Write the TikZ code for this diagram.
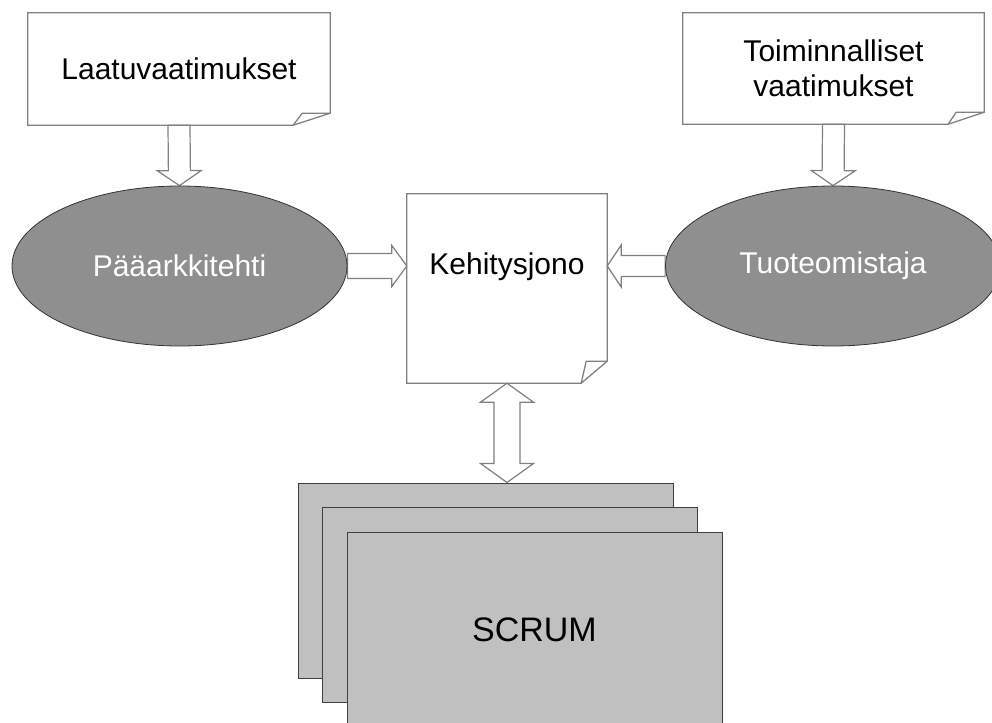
\documentclass[tikz,border=0pt]{standalone}
\usepackage{fontspec}
\setmainfont{Liberation Sans}
\usetikzlibrary{calc,shapes.geometric}
\pgfdeclarelayer{back}
\pgfsetlayers{back,main}

\definecolor{docline}{HTML}{808080}
\definecolor{rolefill}{HTML}{8F8F8F}
\definecolor{scrumfill}{HTML}{C0C0C0}

\tikzset{
  every node/.style={font=\fontsize{30}{35}\selectfont},
  docnode/.style={rectangle, inner sep=0pt, align=center},
  docedge/.style={draw=docline, line width=1.3pt, line join=miter},
  role/.style={ellipse, draw=black!80, line width=0.8pt, fill=rolefill,
    text=white, inner sep=0pt, minimum width=335pt, minimum height=160pt},
  scrumcard/.style={rectangle, draw=black!75, line width=1pt, fill=scrumfill,
    minimum width=375pt, minimum height=195pt, inner sep=0pt,
    font=\fontsize{34}{40}\selectfont},
  hollowarrow/.style={draw=docline, fill=white, line width=1.2pt, line join=miter},
}

% Outline of a document with a curled lower right corner:
% node, fold width, fold height, flap inset
\newcommand{\foldeddoc}[4]{%
  \coordinate (fd-b) at ($(#1.south east)+(-#2,0)$);
  \coordinate (fd-r) at ($(#1.south east)+(0,-#3)$);
  \coordinate (fd-f) at ($(#1.south east)+(-#4,-#3)$);
  \draw[docedge] (#1.north west) -- (#1.north east) -- (fd-r) -- (fd-b)
    -- (#1.south west) -- cycle;
  \draw[docedge] (fd-b) -- (fd-f) -- (fd-r);
}

% Hollow block arrow: from, to, shaft half width, head half width, head length
\newcommand{\blockarrow}[5]{%
  \coordinate (ba-h) at ($(#2)!#5pt!(#1)$);
  \draw[hollowarrow] ($(#1)!#3pt!90:(#2)$) -- ($(ba-h)!#3pt!-90:(#1)$)
    -- ($(ba-h)!#4pt!-90:(#1)$) -- (#2) -- ($(ba-h)!#4pt!90:(#1)$)
    -- ($(ba-h)!#3pt!90:(#1)$) -- ($(#1)!#3pt!-90:(#2)$) -- cycle;
}

% Hollow double-headed block arrow: end, end, shaft half width, head half width, head length
\newcommand{\doubleblockarrow}[5]{%
  \coordinate (da-a) at ($(#1)!#5pt!(#2)$);
  \coordinate (da-b) at ($(#2)!#5pt!(#1)$);
  \draw[hollowarrow] (#1) -- ($(da-a)!#4pt!90:(#2)$) -- ($(da-a)!#3pt!90:(#2)$)
    -- ($(da-b)!#3pt!-90:(#1)$) -- ($(da-b)!#4pt!-90:(#1)$) -- (#2)
    -- ($(da-b)!#4pt!90:(#1)$) -- ($(da-b)!#3pt!90:(#1)$)
    -- ($(da-a)!#3pt!-90:(#2)$) -- ($(da-a)!#4pt!-90:(#2)$) -- cycle;
}

\begin{document}
\begin{tikzpicture}[x=1pt, y=-1pt]
\useasboundingbox (0,0) rectangle (992,722);

% requirement documents
\node[docnode, minimum width=302pt, minimum height=112pt] (laatu) at (179,69) {Laatuvaatimukset};
\node[docnode, minimum width=301pt, minimum height=111pt] (toim) at (833.5,68.5) {};
\node[docnode, minimum width=200pt, minimum height=189pt] (kehitys) at (507,288.5) {};

\foldeddoc{laatu}{37}{12}{28}
\foldeddoc{toim}{36}{12}{28}
\foldeddoc{kehitys}{26}{22}{21}

\node[align=center] (toimtext) at (toim.center) {Toiminnalliset\\vaatimukset};
\node (kehitystext) at ($(kehitys.center)+(0,-22)$) {Kehitysjono};

% roles
\node[role] (arkkitehti) at (179.5,266) {Pääarkkitehti};
\node[role] (omistaja) at (833,266) {Tuoteomistaja};

% stacked scrum teams
\node[scrumcard] (scrumA) at (485.5,580.5) {};
\node[scrumcard] (scrumB) at (509.5,604.5) {};
\node[scrumcard] (scrumC) at (534.5,629.5) {SCRUM};

% flows
\coordinate (stacktop) at (kehitys.south |- scrumA.north);
\coordinate (kwest) at (arkkitehti.east -| kehitys.west);
\coordinate (keast) at (omistaja.west -| kehitys.east);
\begin{pgfonlayer}{back}
  \blockarrow{laatu.south}{arkkitehti.north}{11}{22}{15}
  \blockarrow{toim.south}{omistaja.north}{11}{22}{15}
  \blockarrow{arkkitehti.east}{kwest}{12.5}{20.5}{15}
  \blockarrow{omistaja.west}{keast}{10.5}{21}{14}
  \doubleblockarrow{kehitys.south}{stacktop}{13}{26.5}{19}
\end{pgfonlayer}
\end{tikzpicture}
\end{document}
